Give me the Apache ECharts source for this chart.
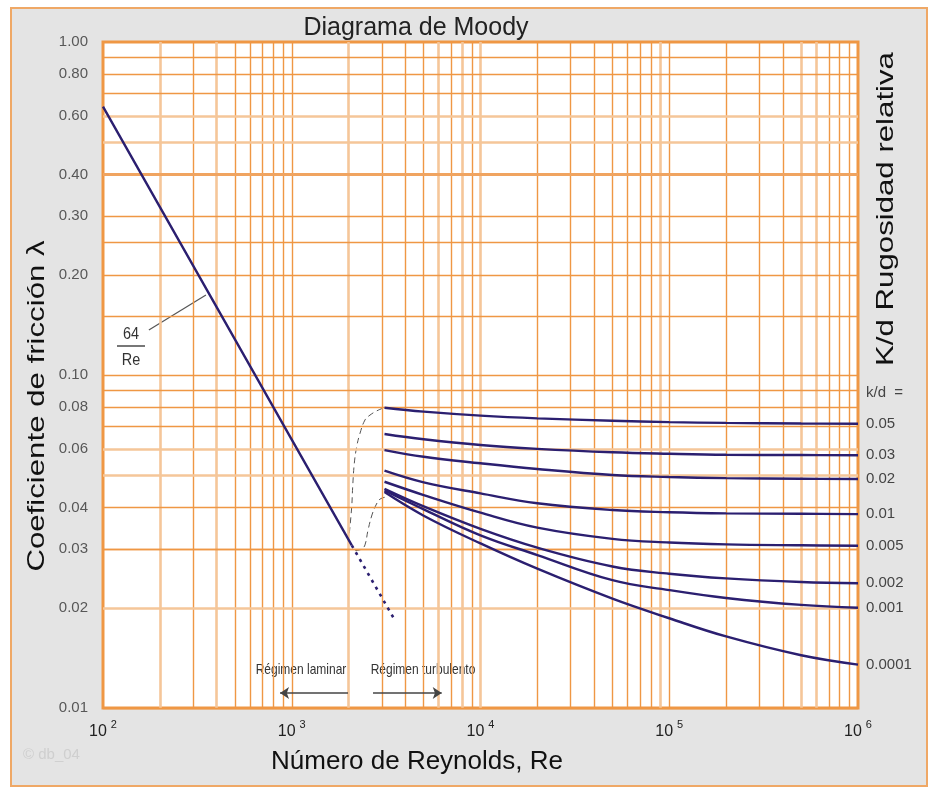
<!DOCTYPE html>
<html><head><meta charset="utf-8">
<script src="https://cdn.jsdelivr.net/npm/echarts@6/dist/echarts.min.js"></script>
<style>
html,body{margin:0;padding:0;background:#fff;}
#frame{position:absolute;left:10px;top:7px;width:914px;height:776px;background:#e4e4e4;border:2px solid #efa866;}
#chart{position:absolute;left:0;top:0;width:928px;height:787px;}
</style></head><body>
<div id="frame"></div><div id="chart"></div>
<script>
// ---------------- data ----------------
const reynolds = [3100, 5000, 10000, 20000, 50000, 100000, 200000, 500000, 1000000];
const f_kd_0_05   = [0.0797, 0.0776, 0.0755, 0.0741, 0.0729, 0.0722, 0.0718, 0.0715, 0.0714];
const f_kd_0_03   = [0.0665, 0.0641, 0.0616, 0.0600, 0.0586, 0.0580, 0.0576, 0.0575, 0.0574];
const f_kd_0_02   = [0.0595, 0.0568, 0.0543, 0.0522, 0.0501, 0.0494, 0.0490, 0.0488, 0.0487];
const f_kd_0_01   = [0.0516, 0.0476, 0.0441, 0.0412, 0.0393, 0.0387, 0.0384, 0.0383, 0.0382];
const f_kd_0_005  = [0.0478, 0.0436, 0.0386, 0.0348, 0.0322, 0.0314, 0.0310, 0.0308, 0.0307];
const f_kd_0_002  = [0.0455, 0.0403, 0.0345, 0.0303, 0.0266, 0.0253, 0.0245, 0.0239, 0.0237];
const f_kd_0_001  = [0.0450, 0.0395, 0.0330, 0.0288, 0.0242, 0.0226, 0.0214, 0.0204, 0.0200];
const f_kd_0_0001 = [0.0445, 0.0378, 0.0312, 0.0262, 0.0213, 0.0186, 0.0164, 0.0144, 0.0135];
const kdLabels = ['0.05', '0.03', '0.02', '0.01', '0.005', '0.002', '0.001', '0.0001'];
const kdCurves = [f_kd_0_05, f_kd_0_03, f_kd_0_02, f_kd_0_01, f_kd_0_005, f_kd_0_002, f_kd_0_001, f_kd_0_0001];

const laminarRe = [100, 200, 500, 1000, 2080];
const laminarF  = [0.64, 0.32, 0.128, 0.064, 0.0308];
const laminarExtRe = [2080, 3490];
const laminarExtF  = [0.0308, 0.0185];

const critUpperRe = [2018, 2078, 2103, 2145, 2208, 2299, 2444, 2598, 2818, 3055];
const critUpperF  = [0.0335, 0.0402, 0.0462, 0.0543, 0.0609, 0.0668, 0.0733, 0.0758, 0.0780, 0.0796];
const critLowerRe = [2163, 2348, 2444, 2535, 2661, 2795, 2935, 3158];
const critLowerF  = [0.0297, 0.0300, 0.0309, 0.0342, 0.0380, 0.0407, 0.0424, 0.0430];

const leaderRe = [175, 351];
const leaderF  = [0.1365, 0.1739];

const arrowLaminarRe = [1986, 867];
const arrowTurbRe = [2695, 6230];
const arrowF = 0.0111;

const yTickValues = [1, 0.8, 0.6, 0.4, 0.3, 0.2, 0.1, 0.08, 0.06, 0.04, 0.03, 0.02, 0.01];
const yTickLabels = ['1.00', '0.80', '0.60', '0.40', '0.30', '0.20', '0.10', '0.08', '0.06', '0.04', '0.03', '0.02', '0.01'];

const gridRe = [200,300,400,500,600,700,800,900,1000,2000,3000,4000,5000,6000,7000,8000,9000,10000,
  20000,30000,40000,50000,60000,70000,80000,90000,100000,200000,300000,400000,500000,600000,700000,800000,900000];
const gridF = [0.015,0.02,0.025,0.03,0.04,0.05,0.06,0.07,0.08,0.09,0.1,0.15,0.2,0.25,0.3,0.4,0.5,0.6,0.7,0.8,0.9];
const paleRe = [200, 400, 2000, 6000, 8000, 10000, 90000, 500000, 600000];
const paleF = [0.6, 0.5, 0.06, 0.05, 0.02];

// ---------------- styling ----------------
const NARROW = "'Liberation Sans Narrow','Arial Narrow','Liberation Sans',Arial,sans-serif";
const SANS = "'Liberation Sans',Arial,sans-serif";
const ORANGE = '#ef9744', PALE = '#f5c699', NAVY = '#2b1f70';

const regStyle = {color: ORANGE, width: 1.4, type: 'solid'};
const paleStyle = {color: PALE, width: 2.6, type: 'solid'};
const gridLines = [
  ...gridRe.map(v => ({xAxis: v, lineStyle: paleRe.includes(v) ? paleStyle : regStyle})),
  ...gridF.map(v => ({yAxis: v, lineStyle: v === 0.4 ? {color: '#f0a460', width: 3, type: 'solid'} : (paleF.includes(v) ? paleStyle : regStyle)}))
];

const zip = (xs, ys) => xs.map((x, i) => [x, ys[i]]);

const series = [];
series.push({
  type: 'line', name: '_grid', data: [[100, 1]], symbol: 'none', lineStyle: {opacity: 0}, silent: true, z: 1,
  markLine: {silent: true, symbol: ['none', 'none'], label: {show: false}, emphasis: {disabled: true}, data: gridLines, animation: false}
});
kdLabels.forEach((lab, i) => {
  series.push({
    type: 'line', name: lab, data: zip(reynolds, kdCurves[i]), smooth: 0.4,
    symbol: 'none', showSymbol: false, z: 5,
    lineStyle: {color: NAVY, width: 2.4},
    endLabel: {show: true, formatter: () => lab, distance: 8, color: '#444', fontFamily: NARROW, fontSize: 15}
  });
});
series.push({type: 'line', name: 'laminar', data: zip(laminarRe, laminarF), symbol: 'none', z: 5,
  lineStyle: {color: NAVY, width: 2.4}});
series.push({type: 'line', name: 'laminarExt', data: zip(laminarExtRe, laminarExtF), symbol: 'none', z: 5,
  lineStyle: {color: NAVY, width: 2.6, type: [3, 5]}});
series.push({type: 'line', name: 'critUpper', data: zip(critUpperRe, critUpperF), smooth: 0.4, symbol: 'none', z: 4,
  lineStyle: {color: '#555', width: 1, type: [6, 4]}});
series.push({type: 'line', name: 'critLower', data: zip(critLowerRe, critLowerF), smooth: 0.4, symbol: 'none', z: 4,
  lineStyle: {color: '#555', width: 1, type: [6, 4]}});
series.push({type: 'line', name: 'leader', data: zip(leaderRe, leaderF), symbol: 'none', z: 4,
  lineStyle: {color: '#555', width: 1.2}});
series.push({
  type: 'line', name: '_arrows', data: [[100, 1]], symbol: 'none', lineStyle: {opacity: 0}, silent: true, z: 4,
  markLine: {silent: true, symbol: ['none', 'arrow'], symbolSize: [9, 9], label: {show: false}, animation: false,
    lineStyle: {color: '#444', width: 1.6, type: 'solid'},
    data: [
      [{coord: [arrowLaminarRe[0], arrowF]}, {coord: [arrowLaminarRe[1], arrowF]}],
      [{coord: [arrowTurbRe[0], arrowF]}, {coord: [arrowTurbRe[1], arrowF]}]
    ]}
});
series.push({
  type: 'scatter', name: '_yticks', data: yTickValues.map(v => [100, v]), symbolSize: 0, silent: true, clip: false,
  label: {show: true, position: 'left', distance: 15, color: '#333', fontFamily: NARROW, fontSize: 15,
    formatter: p => yTickLabels[p.dataIndex]}
});

const option = {
  animation: false,
  backgroundColor: 'transparent',
  grid: {left: 103, right: 70, top: 42, bottom: 79, show: true, backgroundColor: '#fff', borderColor: ORANGE, borderWidth: 3},
  xAxis: {
    type: 'log', logBase: 10, min: 100, max: 1000000,
    axisLine: {show: false}, axisTick: {show: false}, splitLine: {show: false},
    axisLabel: {
      margin: 11,
      formatter: v => '{a|10}{s|' + Math.round(Math.log10(v)) + '}',
      rich: {
        a: {fontSize: 16, fontFamily: NARROW, color: '#222', lineHeight: 21, verticalAlign: 'bottom'},
        s: {fontSize: 11, fontFamily: NARROW, color: '#222', verticalAlign: 'top', padding: [0, 0, 0, 4]}
      }
    }
  },
  yAxis: {
    type: 'log', logBase: 10, min: 0.01, max: 1,
    axisLine: {show: false}, axisTick: {show: false}, splitLine: {show: false}, axisLabel: {show: false}
  },
  graphic: [
    {type: 'text', x: 416, y: 28, style: {text: 'Diagrama de Moody', fill: '#222', font: '25px ' + SANS, align: 'center', verticalAlign: 'middle', textAlign: 'center', textVerticalAlign: 'middle'}},
    {type: 'text', x: 417, y: 762, style: {text: 'Número de Reynolds, Re', fill: '#111', font: '26px ' + SANS, align: 'center', verticalAlign: 'middle', textAlign: 'center', textVerticalAlign: 'middle'}},
    {type: 'text', x: 37, y: 406, rotation: Math.PI / 2, scaleX: 1.3, style: {text: 'Coeficiente de fricción λ', fill: '#111', font: '24px ' + SANS, align: 'center', verticalAlign: 'middle', textAlign: 'center', textVerticalAlign: 'middle'}},
    {type: 'text', x: 886, y: 209, rotation: Math.PI / 2, scaleX: 1.3, style: {text: 'K/d Rugosidad relativa', fill: '#111', font: '24px ' + SANS, align: 'center', verticalAlign: 'middle', textAlign: 'center', textVerticalAlign: 'middle'}},
    {type: 'text', x: 866, y: 393, style: {text: 'k/d  =', fill: '#444', font: '15px ' + NARROW, align: 'left', verticalAlign: 'middle', textAlign: 'left', textVerticalAlign: 'middle'}},
    {type: 'text', x: 131, y: 334, scaleX: 0.85, style: {text: '64', fill: '#333', font: '17px ' + NARROW, align: 'center', verticalAlign: 'middle', textAlign: 'center', textVerticalAlign: 'middle'}},
    {type: 'line', shape: {x1: 117, y1: 346, x2: 145, y2: 346}, style: {stroke: '#777', lineWidth: 2}},
    {type: 'text', x: 131, y: 360, scaleX: 0.85, style: {text: 'Re', fill: '#333', font: '17px ' + NARROW, align: 'center', verticalAlign: 'middle', textAlign: 'center', textVerticalAlign: 'middle'}},
    {type: 'text', x: 301, y: 670, scaleX: 0.8, style: {text: 'Régimen laminar', fill: '#333', font: '15px ' + NARROW, align: 'center', verticalAlign: 'middle', textAlign: 'center', textVerticalAlign: 'middle'}},
    {type: 'text', x: 423, y: 670, scaleX: 0.8, style: {text: 'Régimen turbulento', fill: '#333', font: '15px ' + NARROW, align: 'center', verticalAlign: 'middle', textAlign: 'center', textVerticalAlign: 'middle'}},
    {type: 'text', x: 23, y: 755, style: {text: '© db_04', fill: '#cfcfcf', font: '15px ' + NARROW, align: 'left', verticalAlign: 'middle', textAlign: 'left', textVerticalAlign: 'middle'}}
  ],
  series: series
};

const chart = echarts.init(document.getElementById('chart'), null, {renderer: 'canvas'});
chart.setOption(option);
</script>
</body></html>
